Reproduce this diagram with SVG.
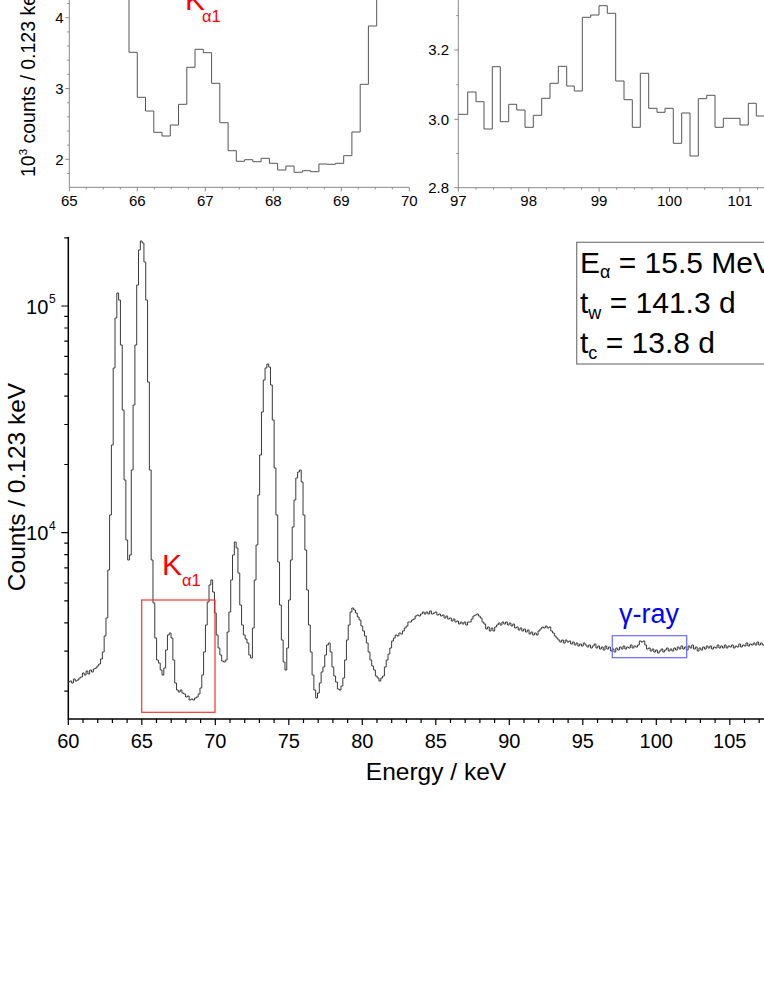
<svg xmlns="http://www.w3.org/2000/svg" width="764" height="989" viewBox="0 0 764 989">
<style>
text{font-family:"Liberation Sans",Arial,sans-serif;fill:#000}
.ax{stroke:#000;stroke-width:1.5;fill:none}
.tk{stroke:#000;stroke-width:1.2;fill:none}
.iax{stroke:#8a8a8a;stroke-width:1;fill:none}
.hist{stroke:#3a3a3a;stroke-width:1;fill:none}
.ihist{stroke:#555;stroke-width:1;fill:none}
.tl{font-size:20px}
.itl{font-size:15px}
.red{fill:#ff0000}
.blue{fill:#0000ff}
</style>
<rect width="764" height="989" fill="#fff"/>

<g id="inset-left">
  <path class="iax" d="M69.3,0V187.3H409.3"/>
  <path class="iax" d="M69.3,187.3v4M137.3,187.3v4M205.3,187.3v4M273.3,187.3v4M341.3,187.3v4M409.3,187.3v4
  M86.3,187.3v2M103.3,187.3v2M120.3,187.3v2M154.3,187.3v2M171.3,187.3v2M188.3,187.3v2M222.3,187.3v2M239.3,187.3v2M256.3,187.3v2M290.3,187.3v2M307.3,187.3v2M324.3,187.3v2M358.3,187.3v2M375.3,187.3v2M392.3,187.3v2
  M69.3,159.3h-4M69.3,88.5h-4M69.3,17.7h-4
  M69.3,173.5h-2M69.3,145.1h-2M69.3,131h-2M69.3,116.8h-2M69.3,102.7h-2M69.3,74.3h-2M69.3,60.2h-2M69.3,46h-2M69.3,31.9h-2M69.3,3.5h-2"/>
  <path class="ihist" d="M129,-2V52.3H137.3V97.3H145.5V111H153.8V132.3H162V136H170.3V125H178.5V104.3H186.8V67.3H195V49.3H203.3V52.7H211.6V83.3H219.8V122.7H228.1V150.7H236.3V161.3H244.6V159.7H252.8V161.7H261.1V158.3H269.4V163.3H277.6V170H285.9V166H294.1V172.3H302.4V170.7H310.6V171.7H318.9V164H327.1V164.3H335.4V163.3H343.7V155.7H351.9V132H360.2V84.3H368.4V26H376.7V-2"/>
  <g class="itl" text-anchor="middle">
    <text x="69.3" y="205.5">65</text>
    <text x="137.3" y="205.5">66</text>
    <text x="205.3" y="205.5">67</text>
    <text x="273.3" y="205.5">68</text>
    <text x="341.3" y="205.5">69</text>
    <text x="409.3" y="205.5">70</text>
  </g>
  <g class="itl" text-anchor="end">
    <text x="63.5" y="164.5">2</text>
    <text x="63.5" y="93.7">3</text>
    <text x="63.5" y="22.9">4</text>
  </g>
  <text transform="translate(35,177) rotate(-90)" font-size="19.5">10<tspan font-size="11.5" dy="-8.5">3</tspan><tspan dy="8.5"> counts / 0.123 keV</tspan></text>
  <text x="185" y="10" font-size="30" class="red">K</text>
  <text x="202" y="21.7" font-size="16.5" class="red">α1</text>
</g>

<g id="inset-right">
  <path class="iax" d="M458.3,0V187.7H764"/>
  <path class="iax" d="M458.3,187.7v4M528.7,187.7v4M599.1,187.7v4M669.5,187.7v4M739.9,187.7v4
  M475.9,187.7v2M493.5,187.7v2M511.1,187.7v2M546.3,187.7v2M563.9,187.7v2M581.5,187.7v2M616.7,187.7v2M634.3,187.7v2M651.9,187.7v2M687.1,187.7v2M704.7,187.7v2M722.3,187.7v2M757.5,187.7v2
  M458.3,187.7h-4M458.3,119.3h-4M458.3,50h-4
  M458.3,153.5h-2M458.3,84.7h-2M458.3,15.6h-2"/>
  <path class="ihist" d="M458.3,114.3H467.7V92H476V101.7H484V129H492.3V66.7H500.3V121.7H508.7V104.3H516.7V110H525V127.3H533.3V115.3H541.7V98.3H550V83.3H558.3V66.3H566.7V86H574.3V91H582.3V17.3H590.7V15H599V5.7H607.3V13.3H615.7V81H624V99.7H632.3V127.3H640.3V73.3H648.7V108.3H657V112.3H665V108.3H673.3V143.3H681.7V113H690V156H698.3V98.7H706.7V95.3H715V127.3H723.3V118.3H740V125H748.3V103.3H756.3V116H764"/>
  <g class="itl" text-anchor="middle">
    <text x="458.3" y="205.5">97</text>
    <text x="528.7" y="205.5">98</text>
    <text x="599.1" y="205.5">99</text>
    <text x="669.5" y="205.5">100</text>
    <text x="739.9" y="205.5">101</text>
  </g>
  <g class="itl" text-anchor="end">
    <text x="449" y="192.9">2.8</text>
    <text x="449" y="124.5">3.0</text>
    <text x="449" y="55.2">3.2</text>
  </g>
</g>

<g id="main-axes">
  <path class="ax" d="M68.3,237V719H764"/>
  <path class="tk" d="M68.3,719v6M141.8,719v6M215.3,719v6M288.8,719v6M362.3,719v6M435.8,719v6M509.3,719v6M582.8,719v6M656.3,719v6M729.8,719v6
  M83,719v4M97.7,719v4M112.4,719v4M127.1,719v4M156.5,719v4M171.2,719v4M185.9,719v4M200.6,719v4M230,719v4M244.7,719v4M259.4,719v4M274.1,719v4M303.5,719v4M318.2,719v4M332.9,719v4M347.6,719v4M377,719v4M391.7,719v4M406.4,719v4M421.1,719v4M450.5,719v4M465.2,719v4M479.9,719v4M494.6,719v4M524,719v4M538.7,719v4M553.4,719v4M568.1,719v4M597.5,719v4M612.2,719v4M626.9,719v4M641.6,719v4M671,719v4M685.7,719v4M700.4,719v4M715.1,719v4M744.5,719v4M759.2,719v4
  M68.3,306h-7M68.3,532.7h-7
  M68.3,691.2h-4M68.3,651.2h-4M68.3,622.9h-4M68.3,600.9h-4M68.3,583h-4M68.3,567.8h-4M68.3,554.7h-4M68.3,543.1h-4
  M68.3,464.5h-4M68.3,424.5h-4M68.3,396.2h-4M68.3,374.2h-4M68.3,356.3h-4M68.3,341.1h-4M68.3,328h-4M68.3,316.4h-4M68.3,237.8h-4"/>
  <g class="tl" text-anchor="middle">
    <text x="68.3" y="748">60</text>
    <text x="141.8" y="748">65</text>
    <text x="215.3" y="748">70</text>
    <text x="288.8" y="748">75</text>
    <text x="362.3" y="748">80</text>
    <text x="435.8" y="748">85</text>
    <text x="509.3" y="748">90</text>
    <text x="582.8" y="748">95</text>
    <text x="656.3" y="748">100</text>
    <text x="729.8" y="748">105</text>
  </g>
  <text class="tl" x="48.3" y="313.5" text-anchor="end">10</text>
  <text x="49" y="303" font-size="12">5</text>
  <text class="tl" x="48.3" y="540.2" text-anchor="end">10</text>
  <text x="49" y="529.7" font-size="12">4</text>
  <text x="436" y="780" font-size="24.5" text-anchor="middle">Energy / keV</text>
  <text transform="translate(25,487) rotate(-90)" font-size="24.5" text-anchor="middle">Counts / 0.123 keV</text>
</g>

<g id="spectrum">
<path class="hist" d="M68,682h1.808V681h1.808V683h1.808V679h1.808V681h1.808V680h1.808V678h1.808V677h1.808V673h1.808V675h1.808V671h1.808V674h1.808V670h1.808V672h1.808V669h1.808V668h1.808V666h1.808V664h1.808V659h1.808V652h1.808V636h1.808V618h1.808V570h1.808V515h1.808V445h1.808V368h1.808V318h1.808V293h1.808V300h1.808V345h1.808V410h1.808V480h1.808V540h1.808V560h1.808V555h1.808V470h1.808V405h1.808V345h1.808V285h1.808V250h1.808V241h1.808V243h1.808V262h1.808V300h1.808V382h1.808V470h1.808V560h1.808V603h1.808V638h1.808V660h1.808V663h1.808V670h1.808V675h1.808V668h1.808V650h1.808V635h1.808V633h1.808V638h1.808V660h1.808V683h1.808V690h1.808V692h1.808V690h1.808V693h1.808V694h1.808V697h1.808V696h1.808V700h1.808V699h1.808V700h1.808V698h1.808V697h1.808V694h1.808V688h1.808V675h1.808V652h1.808V625h1.808V602h1.808V585h1.808V580h1.808V592h1.808V613h1.808V635h1.808V648h1.808V655h1.808V661h1.808V662h1.808V660h1.808V632h1.808V612h1.808V580h1.808V555h1.808V542h1.808V548h1.808V573h1.808V605h1.808V625h1.808V635h1.808V639h1.808V643h1.808V655h1.808V658h1.808V628h1.808V580h1.808V545h1.808V495h1.808V455h1.808V412h1.808V380h1.808V368h1.808V364h1.808V367h1.808V385h1.808V420h1.808V468h1.808V515h1.808V562h1.808V605h1.808V640h1.808V662h1.808V670h1.808V648h1.808V600h1.808V560h1.808V527h1.808V500h1.808V478h1.808V472h1.808V470h1.808V482h1.808V515h1.808V550h1.808V590h1.808V625h1.808V652h1.808V675h1.808V690h1.808V698h1.808V693h1.808V683h1.808V672h1.808V667h1.808V655h1.808V645h1.808V643h1.808V652h1.808V667h1.808V676h1.808V682h1.808V689h1.808V690h1.808V686h1.808V678h1.808V660h1.808V640h1.808V625h1.808V612h1.808V608h1.808V610h1.808V613h1.808V617h1.808V620h1.808V626h1.808V631h1.808V636h1.808V643h1.808V652h1.808V660h1.808V666h1.808V670h1.808V676h1.808V678h1.808V681h1.808V678h1.808V676h1.808V667h1.808V660h1.808V654h1.808V648h1.808V641h1.808V638h1.808V635h1.808V636h1.808V633h1.808V634h1.808V631h1.808V628h1.808V626h1.808V622h1.808V622h1.808V620h1.808V619h1.808V616h1.808V615h1.808V616h1.808V614h1.808V612h1.808V614h1.808V612h1.808V614h1.808V611h1.808V614h1.808V613h1.808V612h1.808V615h1.808V614h1.808V616h1.808V615h1.808V618h1.808V616h1.808V619h1.808V618h1.808V621h1.808V619h1.808V622h1.808V621h1.808V624h1.808V622h1.808V624h1.808V622h1.808V625h1.808V622h1.808V622h1.808V619h1.808V616h1.808V615h1.808V614h1.808V616h1.808V618h1.808V622h1.808V624h1.808V629h1.808V627h1.808V631h1.808V628h1.808V631h1.808V627h1.808V625h1.808V623h1.808V625h1.808V622h1.808V624h1.808V622h1.808V625h1.808V623h1.808V626h1.808V624h1.808V628h1.808V627h1.808V630h1.808V628h1.808V631h1.808V629h1.808V632h1.808V630h1.808V634h1.808V632h1.808V635h1.808V633h1.808V635h1.808V631h1.808V629h1.808V627h1.808V628h1.808V626h1.808V628h1.808V627h1.808V631h1.808V633h1.808V636h1.808V638h1.808V640h1.808V642h1.808V640h1.808V643h1.808V640h1.808V642h1.808V641h1.808V644h1.808V642h1.808V645h1.808V643h1.808V646h1.808V644h1.808V646h1.808V643h1.808V645h1.808V647h1.808V645h1.808V648h1.808V646h1.808V644h1.808V648h1.808V646h1.808V649h1.808V647h1.808V650h1.808V646h1.808V649h1.808V647h1.808V651h1.808V649h1.808V652h1.808V648h1.808V650h1.808V647h1.808V649h1.808V646h1.808V649h1.808V647h1.808V648h1.808V645h1.808V648h1.808V646h1.808V647h1.808V645h1.808V641h1.808V642h1.808V641h1.808V645h1.808V649h1.808V648h1.808V651h1.808V649h1.808V652h1.808V650h1.808V653h1.808V651h1.808V649h1.808V652h1.808V650h1.808V648h1.808V651h1.808V649h1.808V651h1.808V648h1.808V650h1.808V647h1.808V649h1.808V646h1.808V649h1.808V647h1.808V650h1.808V646h1.808V648h1.808V645h1.808V649h1.808V647h1.808V651h1.808V648h1.808V650h1.808V647h1.808V649h1.808V646h1.808V648h1.808V646h1.808V649h1.808V647h1.808V648h1.808V645h1.808V648h1.808V646h1.808V648h1.808V645h1.808V648h1.808V646h1.808V647h1.808V645h1.808V648h1.808V646h1.808V647h1.808V644h1.808V647h1.808V645h1.808V646h1.808V643h1.808V646h1.808V644h1.808V645h1.808V643h1.808V645h1.808V642h1.808V645h1.808V643h1.808V645h1.808"/>
</g>

<g id="annotations">
  <rect x="141.7" y="600" width="73.3" height="112.3" fill="none" stroke="#ff3030" stroke-width="1.2"/>
  <text x="162" y="575" font-size="30" class="red">K</text>
  <text x="182" y="586" font-size="16.5" class="red">α1</text>
  <rect x="612.3" y="635.7" width="74.4" height="22" fill="none" stroke="#6a6aff" stroke-width="1.2"/>
  <text x="619" y="623.3" font-size="27" class="blue">γ-ray</text>
</g>

<g id="legend">
  <rect x="576.7" y="242.3" width="200" height="121.7" fill="#fff" stroke="#7a7a7a" stroke-width="1.2"/>
  <text x="580" y="273" font-size="30">E<tspan font-size="18" dy="5">α</tspan><tspan dy="-5"> = 15.5 MeV</tspan></text>
  <text x="580" y="313.3" font-size="30">t<tspan font-size="18" dy="6">w</tspan><tspan dy="-6"> = 141.3 d</tspan></text>
  <text x="580" y="353.3" font-size="30">t<tspan font-size="18" dy="6">c</tspan><tspan dy="-6"> = 13.8 d</tspan></text>
</g>
</svg>
